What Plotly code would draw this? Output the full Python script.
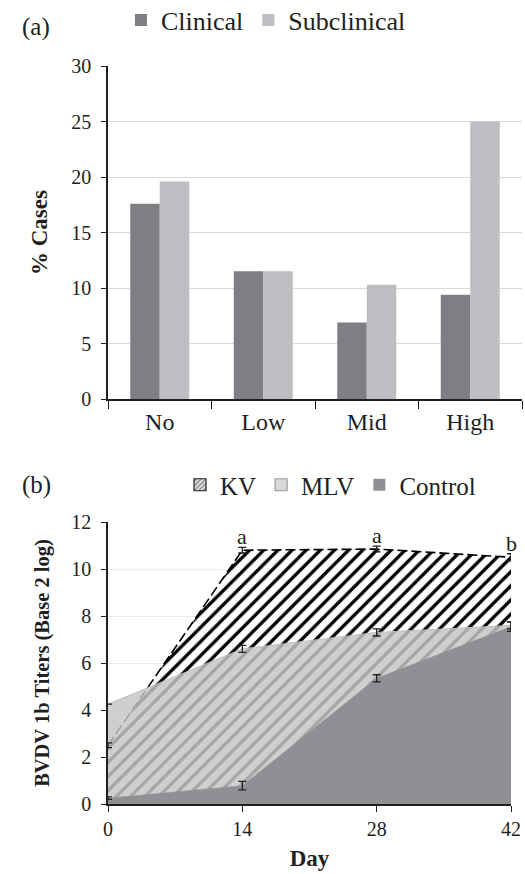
import plotly.graph_objects as go

# ---------------- data ----------------
# Panel (a)
categories = ["No", "Low", "Mid", "High"]
clinical = [17.6, 11.5, 6.9, 9.4]
subclinical = [19.6, 11.5, 10.3, 25.0]

# Panel (b)
days = [0, 14, 28, 42]
kv = [2.5, 10.8, 10.85, 10.5]
mlv = [4.25, 6.6, 7.3, 7.6]
control = [0.25, 0.78, 5.35, 7.55]
kv_err = [0.1, 0.12, 0.12, 0.15]
mlv_err = [0.0, 0.15, 0.15, 0.15]
control_err = [0.05, 0.18, 0.15, 0.2]
sig_letters = ["", "a", "a", "b"]

FONT = '"Liberation Serif", "Times New Roman", Times, serif'
TXT = "#231f20"
W, H = 525, 874

def px_x(p):
    return p / W

def px_y(p):
    return 1 - p / H

fig = go.Figure()

# ---- Panel (a) bars ----
fig.add_trace(go.Bar(x=categories, y=clinical, name="Clinical",
                     marker=dict(color="#7e7f83", line=dict(width=0)),
                     xaxis="x", yaxis="y", legend="legend"))
fig.add_trace(go.Bar(x=categories, y=subclinical, name="Subclinical",
                     marker=dict(color="#bdbec2", line=dict(width=0)),
                     xaxis="x", yaxis="y", legend="legend"))

# ---- Panel (b) areas ----
fig.add_trace(go.Scatter(x=days, y=kv, mode="lines", fill="tozeroy",
                         line=dict(color="black", width=1.6, dash="10px,4px"),
                         fillpattern=dict(shape="/", fgcolor="black", bgcolor="white",
                                          size=10, solidity=0.33, fillmode="replace"),
                         showlegend=False, xaxis="x2", yaxis="y2", hoverinfo="skip"))
fig.add_trace(go.Scatter(x=days, y=mlv, mode="lines", fill="tozeroy",
                         line=dict(color="#bdbdbd", width=1),
                         fillcolor="rgba(198,198,198,0.84)",
                         showlegend=False, xaxis="x2", yaxis="y2"))
fig.add_trace(go.Scatter(x=days, y=control, mode="lines", fill="tozeroy",
                         line=dict(color="#8f9094", width=0.5),
                         fillcolor="#8f9094",
                         showlegend=False, xaxis="x2", yaxis="y2"))

# error bars on top
for vals, errs in ((kv, kv_err), (mlv, mlv_err), (control, control_err)):
    fig.add_trace(go.Scatter(x=days, y=vals, mode="markers",
                             marker=dict(size=1, color="rgba(0,0,0,0)"),
                             error_y=dict(type="data", array=errs, visible=True,
                                          color="#231f20", thickness=1.3, width=4),
                             showlegend=False, xaxis="x2", yaxis="y2"))

# legend-only entries for panel (b)
fig.add_trace(go.Bar(x=[None], y=[None], name="KV", xaxis="x2", yaxis="y2",
                     marker=dict(color="white", line=dict(color="#231f20", width=1.2),
                                 pattern=dict(shape="/", fgcolor="#231f20", bgcolor="white",
                                              size=4, solidity=0.6)),
                     legend="legend2"))
fig.add_trace(go.Bar(x=[None], y=[None], name="MLV", xaxis="x2", yaxis="y2",
                     marker=dict(color="#d9d9d9", line=dict(color="#9a9a9a", width=1.2)),
                     legend="legend2"))
fig.add_trace(go.Bar(x=[None], y=[None], name="Control", xaxis="x2", yaxis="y2",
                     marker=dict(color="#8f9094", line=dict(width=0)),
                     legend="legend2"))

# significance letters
annotations = []
for d, v, e, s in zip(days, kv, kv_err, sig_letters):
    if s:
        annotations.append(dict(x=d, y=v + e, xref="x2", yref="y2", text=s,
                                showarrow=False, yanchor="bottom", yshift=-4,
                                font=dict(family=FONT, size=22, color=TXT)))

annotations.append(dict(x=px_x(20), y=px_y(27), xref="paper", yref="paper", text="(a)",
                        showarrow=False, xanchor="left", yanchor="middle",
                        font=dict(family=FONT, size=25, color=TXT)))
annotations.append(dict(x=px_x(20), y=px_y(485), xref="paper", yref="paper", text="(b)",
                        showarrow=False, xanchor="left", yanchor="middle",
                        font=dict(family=FONT, size=25, color=TXT)))

axis_common = dict(showline=True, linecolor="#231f20", linewidth=1.5,
                   ticks="outside", tickcolor="#231f20", tickwidth=1.3,
                   zeroline=False, fixedrange=True, automargin=False)

fig.update_layout(
    width=W, height=H,
    margin=dict(l=0, r=0, t=0, b=0, autoexpand=False),
    paper_bgcolor="white", plot_bgcolor="white",
    font=dict(family=FONT, color=TXT),
    barmode="group", bargap=0.43, bargroupgap=0,
    annotations=annotations,
    xaxis=dict(domain=[px_x(108), px_x(522)], anchor="y", type="category",
               tickson="boundaries", ticklen=8, showgrid=False,
               tickfont=dict(family=FONT, size=24, color=TXT), **axis_common),
    yaxis=dict(domain=[px_y(399), px_y(66)], anchor="x", range=[0, 30],
               tickvals=[0, 5, 10, 15, 20, 25, 30], ticklen=5, ticklabelstandoff=6,
               showgrid=True, gridcolor="#d9d9d9", gridwidth=1,
               tickfont=dict(family=FONT, size=20, color=TXT),
               title=dict(text="<b>% Cases</b>", font=dict(family=FONT, size=23, color=TXT), standoff=17),
               **axis_common),
    xaxis2=dict(domain=[px_x(108), px_x(511)], anchor="y2", range=[0, 42],
                tickvals=days, ticklen=6,
                showgrid=False,
                tickfont=dict(family=FONT, size=20, color=TXT),
                title=dict(text="<b>Day</b>", font=dict(family=FONT, size=23, color=TXT), standoff=11),
                **axis_common),
    yaxis2=dict(domain=[px_y(804), px_y(522)], anchor="x2", range=[0, 12],
                tickvals=[0, 2, 4, 6, 8, 10, 12], ticklen=5, ticklabelstandoff=6,
                showgrid=True, gridcolor="#ebebeb", gridwidth=1,
                tickfont=dict(family=FONT, size=20, color=TXT),
                title=dict(text="<b>BVDV 1b Titers (Base 2 log)</b>",
                           font=dict(family=FONT, size=20.5, color=TXT), standoff=16),
                **axis_common),
    legend=dict(orientation="h", x=px_x(121), y=px_y(20), xanchor="left", yanchor="middle",
                font=dict(family=FONT, size=26, color=TXT), itemwidth=30,
                bgcolor="rgba(0,0,0,0)", traceorder="normal"),
    legend2=dict(orientation="h", x=px_x(180), y=px_y(485), xanchor="left", yanchor="middle",
                 font=dict(family=FONT, size=25, color=TXT), itemwidth=30,
                 bgcolor="rgba(0,0,0,0)", traceorder="normal"),
)

fig.write_html("out.html", config={"displayModeBar": False},
               post_script="document.body.style.margin='0px';document.body.style.overflow='hidden';")
